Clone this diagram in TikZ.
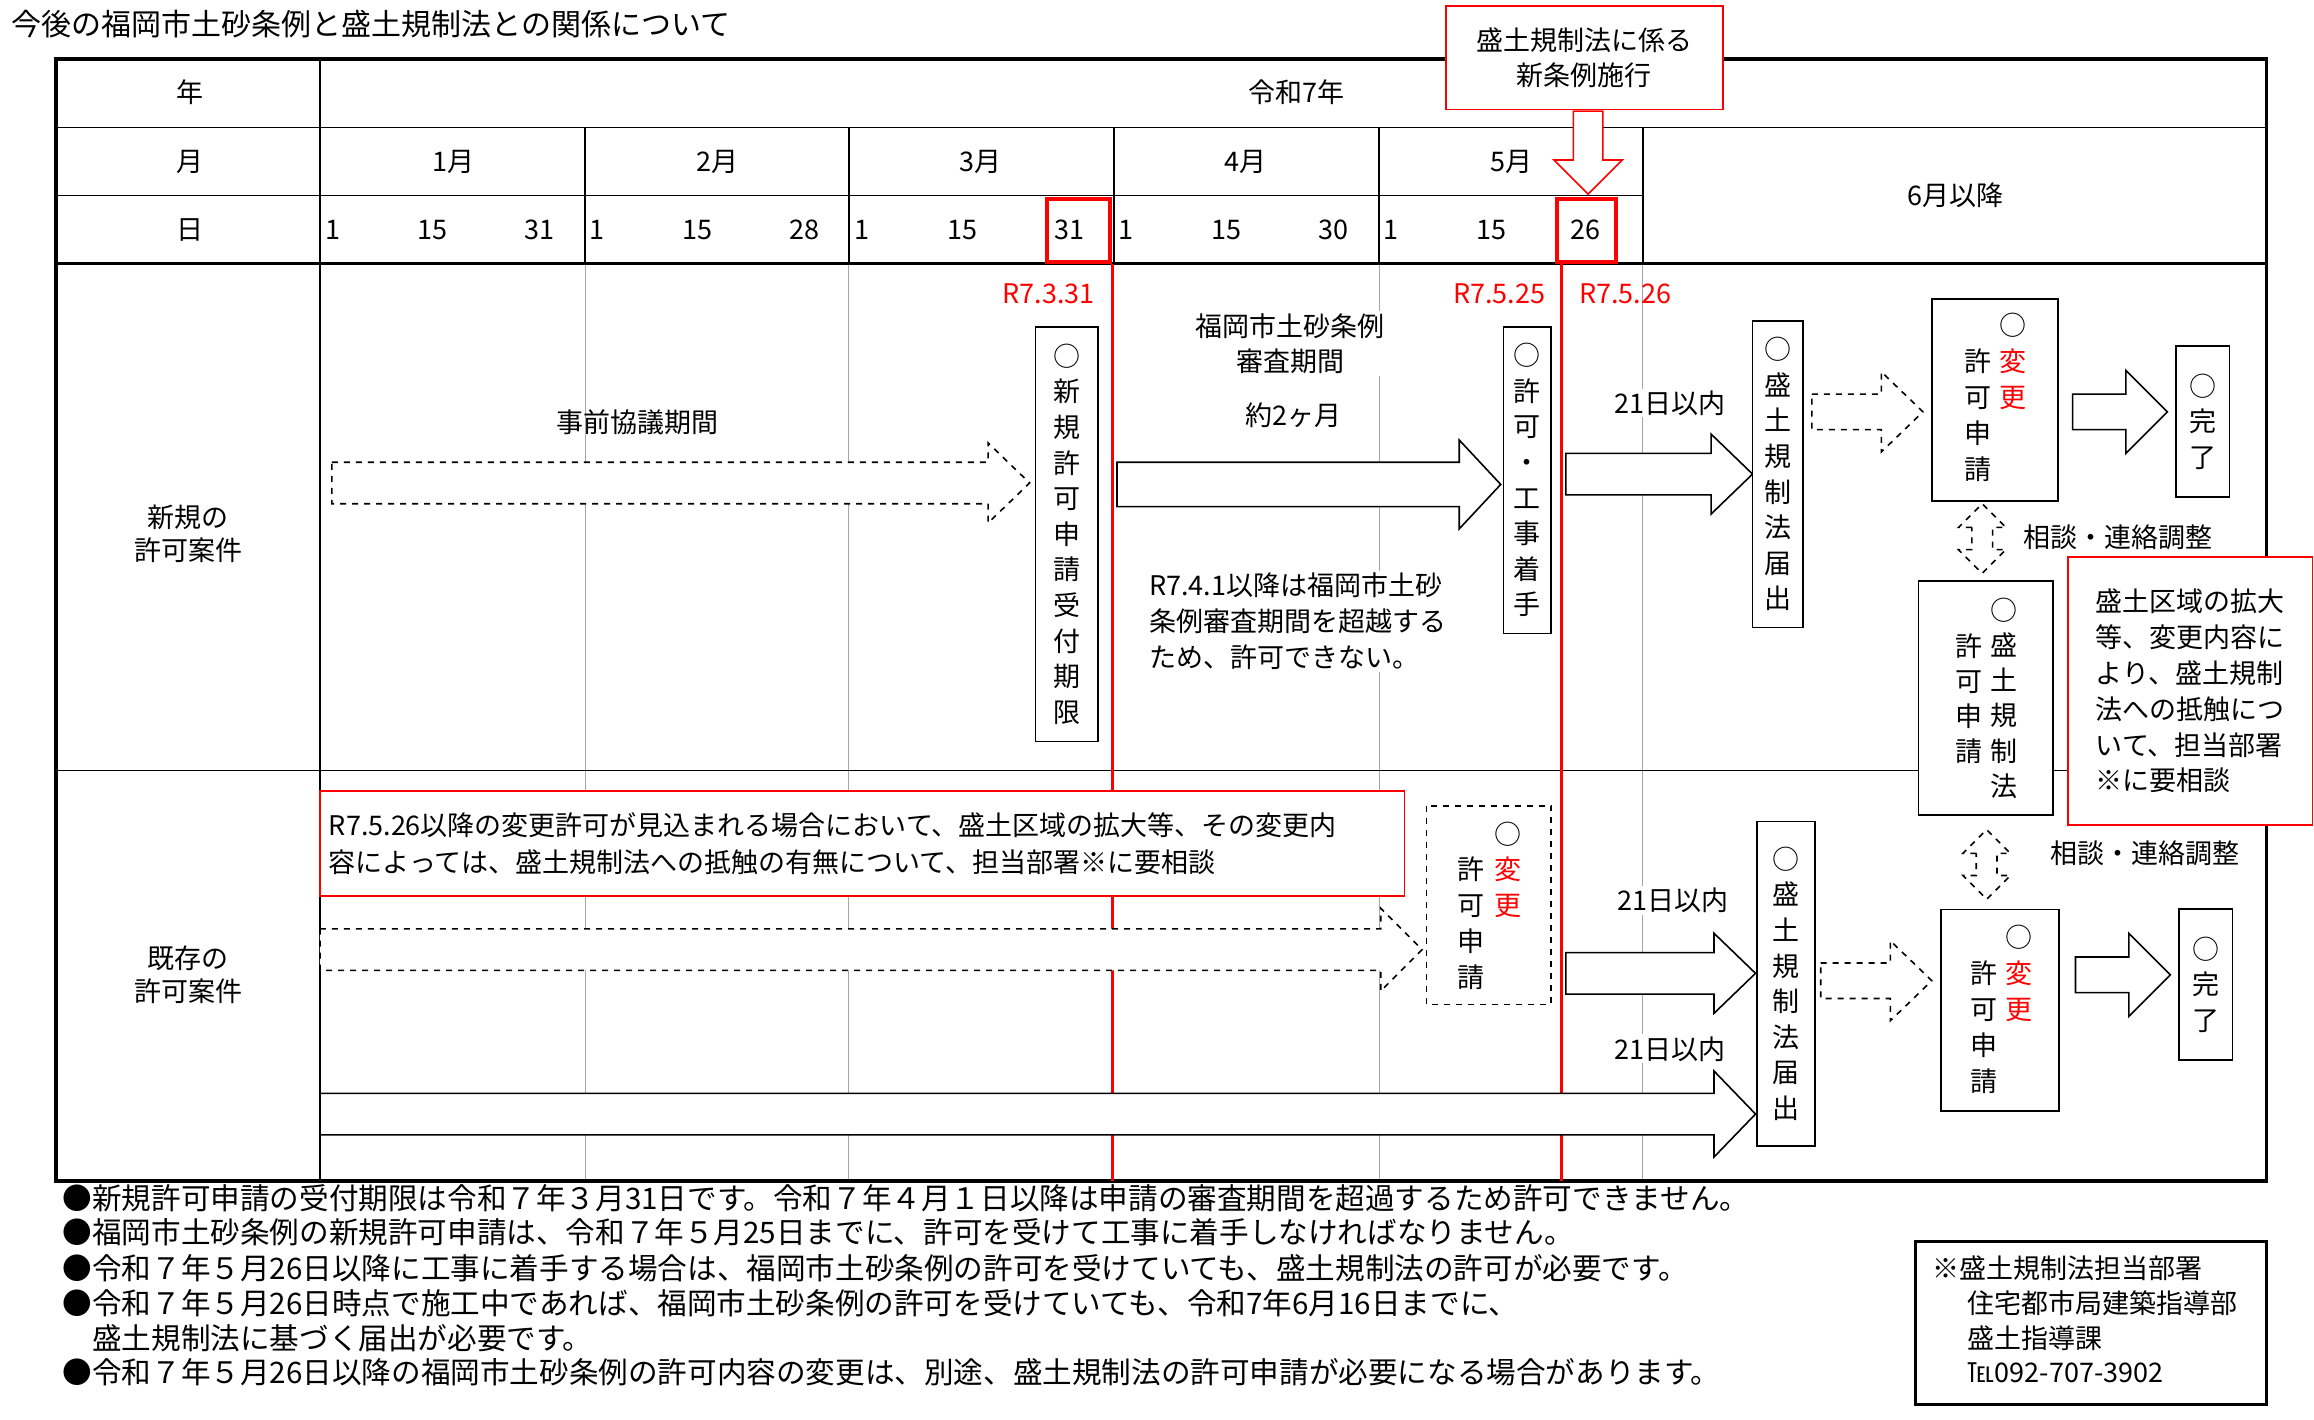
\documentclass[tikz,border=0pt]{standalone}
\usepackage{fontspec}
\setmainfont{Noto Sans CJK JP}
\newcommand\harrow[7]{% x1 x2 yc h H L style
 \draw[#7] (#1,#3-#4) -- (#2-#6,#3-#4) -- (#2-#6,#3-#5) -- (#2,#3) -- (#2-#6,#3+#5) -- (#2-#6,#3+#4) -- (#1,#3+#4) -- cycle;}
\newcommand\vdarrow[7]{% xc y1 y2 h H L style (double headed vertical)
 \draw[#7] (#1-#4,#2+#6) -- (#1-#5,#2+#6) -- (#1,#2) -- (#1+#5,#2+#6) -- (#1+#4,#2+#6) -- (#1+#4,#3-#6) -- (#1+#5,#3-#6) -- (#1,#3) -- (#1-#5,#3-#6) -- (#1-#4,#3-#6) -- cycle;}
\begin{document}
\begin{tikzpicture}[x=0.7407pt,y=-0.7407pt,
 every node/.style={font=\fontsize{13.5}{17}\selectfont,inner sep=1pt},
 vbox/.style={draw,thick,fill=white,align=center,font=\fontsize{13.5}{17.8}\selectfont,anchor=north,inner sep=2pt},
 solidarr/.style={draw,thick,fill=white},
 dasharr/.style={draw,thick,dashed,fill=white},
 redbox/.style={draw=red,thick,fill=white},
 grayline/.style={gray!70,line width=0.5pt}]
\useasboundingbox (0,0) rectangle (1562,958);
\fill[white] (0,0) rectangle (1562,958);
\node[anchor=west,font=\fontsize{15}{18}\selectfont] (title) at (6,16) {今後の福岡市土砂条例と盛土規制法との関係について};
% gray verticals
\foreach \x in {395,573,931} \draw[grayline] (\x,178) -- (\x,797);
\draw[grayline] (1109,178) -- (1109,797);
% table lines
\draw[thick] (38,86) -- (1530,86);
\draw[thick] (38,132) -- (1109,132);
\draw[line width=1.3pt] (38,178) -- (1530,178);
\draw[thick] (38,520) -- (1530,520);
\draw[thick] (216,40) -- (216,797);
\foreach \x in {395,573,752,931} \draw[thick] (\x,86) -- (\x,178);
\draw[thick] (1109,86) -- (1109,178);
\draw[line width=1.8pt] (38,40) rectangle (1530,797);
% headers
\node (nen) at (128,62) {年};
\node (tsuki) at (128,109) {月};
\node (hi) at (128,155) {日};
\node (r7) at (875,62) {令和7年};
\node at (306,109) {1月};
\node at (484,109) {2月};
\node at (662,109) {3月};
\node at (841,109) {4月};
\node at (1020,109) {5月};
\node at (1320,132) {6月以降};
\foreach \x/\t in {225/1,292/15,364/31,403/1,471/15,543/28,582/1,650/15,760/1,828/15,900/30,939/1,1007/15}
 \node at (\x,155) {\t};
\node at (722,155) {31};
\node at (1070,155) {26};
\draw[red,line width=2pt] (707,134) rectangle (749,177);
\draw[red,line width=2pt] (1051,134) rectangle (1091,177);
% top box and arrow
\node[redbox,minimum width=187*0.7407pt,minimum height=70*0.7407pt,align=center,font=\fontsize{13.5}{17.8}\selectfont] (shinjorei) at (1069.5,39) {盛土規制法に係る\\新条例施行};
\draw[red,thick,fill=white] (1062,75) -- (1082,75) -- (1082,108) -- (1095,108) -- (1072,131) -- (1049,108) -- (1062,108) -- cycle;
% red verticals
\draw[red,line width=1.5pt] (751,178) -- (751,797);
\draw[red,line width=1.5pt] (1054,178) -- (1054,797);
\node[red] at (708,198) {R7.3.31};
\node[red] at (1012,198) {R7.5.25};
\node[red] at (1097,198) {R7.5.26};
% row labels
\node[align=center,font=\fontsize{13.5}{16.5}\selectfont] at (127,360) {新規の\\許可案件};
\node[align=center,font=\fontsize{13.5}{16.5}\selectfont] at (127,658) {既存の\\許可案件};
% row 1
\node at (430,285) {事前協議期間};
\harrow{224}{695}{326}{14}{27}{28}{dasharr}
\node[vbox,minimum width=42*0.7407pt,minimum height=280*0.7407pt] (shinki) at (720,220) {○\\新\\規\\許\\可\\申\\請\\受\\付\\期\\限};
\node[align=center,font=\fontsize{13.5}{17.8}\selectfont,fill=white] at (871,232) {福岡市土砂条例\\審査期間};
\node[fill=white] at (873,280) {約2ヶ月};
\harrow{754}{1013}{327}{15}{30}{28}{solidarr}
\node[anchor=north west,align=left,fill=white,font=\fontsize{13.5}{18.1}\selectfont] at (774,385) {R7.4.1以降は福岡市土砂\\条例審査期間を超越する\\ため、許可できない。};
\node[vbox,minimum width=32*0.7407pt,minimum height=207*0.7407pt] (kyoka) at (1031,220) {○\\許\\可\\・\\工\\事\\着\\手};
\node[fill=white] at (1127,272) {21日以内};
\harrow{1057}{1183}{320}{14}{27}{28}{solidarr}
\node[vbox,minimum width=34*0.7407pt,minimum height=207*0.7407pt] (todoke1) at (1200,216) {○\\盛\\土\\規\\制\\法\\届\\出};
\harrow{1223}{1298}{278}{12}{27}{28}{dasharr}
\draw[thick,fill=white] (1304,202) rectangle (1389,338);
\node[align=center,font=\fontsize{13.5}{17.9}\selectfont,anchor=north] at (1335,234) {許\\可\\申\\請};
\node[align=center,font=\fontsize{13.5}{17.9}\selectfont,anchor=north] at (1359,210) {○\\\textcolor{red}{変}\\\textcolor{red}{更}};
\harrow{1399}{1463}{278}{12}{28}{28}{solidarr}
\node[vbox,minimum width=36*0.7407pt,minimum height=102*0.7407pt] (kanryo1) at (1487,233) {○\\完\\了};
\vdarrow{1338}{340}{387}{7}{16}{16}{dasharr}
\node at (1430,363) {相談・連絡調整};
\draw[thick,fill=white] (1295,392) rectangle (1386,550);
\node[align=center,font=\fontsize{13.5}{17.6}\selectfont,anchor=north] at (1329,426) {許\\可\\申\\請};
\node[align=center,font=\fontsize{13.5}{17.6}\selectfont,anchor=north] at (1353,402) {○\\盛\\土\\規\\制\\法};
\node[redbox,minimum width=165*0.7407pt,minimum height=181*0.7407pt,align=left,font=\fontsize{13.5}{17.9}\selectfont] (note1) at (1478.5,466.5) {盛土区域の拡大\\等、変更内容に\\より、盛土規制\\法への抵触につ\\いて、担当部署\\※に要相談};
% row 2
\node[redbox,minimum width=732*0.7407pt,minimum height=71*0.7407pt,align=left,font=\fontsize{13.5}{18.1}\selectfont,text width=720*0.7407pt] (note2) at (582,569.5) {R7.5.26以降の変更許可が見込まれる場合において、盛土区域の拡大等、その変更内\\容によっては、盛土規制法への抵触の有無について、担当部署※に要相談};
\harrow{216}{960}{641}{14}{28}{28}{dasharr}
\draw[thick,dashed,fill=white] (963,544) rectangle (1047,678);
\node[align=center,font=\fontsize{13.5}{17.9}\selectfont,anchor=north] at (993,577) {許\\可\\申\\請};
\node[align=center,font=\fontsize{13.5}{17.9}\selectfont,anchor=north] at (1018,553) {○\\\textcolor{red}{変}\\\textcolor{red}{更}};
\node[fill=white] at (1129,608) {21日以内};
\harrow{1057}{1185}{657}{14}{27}{28}{solidarr}
\node[vbox,minimum width=39*0.7407pt,minimum height=219*0.7407pt] (todoke2) at (1205.5,554) {○\\盛\\土\\規\\制\\法\\届\\出};
\harrow{1229}{1304}{662}{12}{27}{28}{dasharr}
\draw[thick,fill=white] (1310,614) rectangle (1390,750);
\node[align=center,font=\fontsize{13.5}{17.9}\selectfont,anchor=north] at (1339,647) {許\\可\\申\\請};
\node[align=center,font=\fontsize{13.5}{17.9}\selectfont,anchor=north] at (1363,623) {○\\\textcolor{red}{変}\\\textcolor{red}{更}};
\harrow{1401}{1465}{658}{12}{28}{28}{solidarr}
\node[vbox,minimum width=36*0.7407pt,minimum height=102*0.7407pt] (kanryo2) at (1489,613) {○\\完\\了};
\vdarrow{1341}{560}{607}{7}{16}{16}{dasharr}
\node at (1448,576) {相談・連絡調整};
\node[fill=white] at (1127,708) {21日以内};
\harrow{216}{1185}{752}{14}{29}{28}{solidarr}
% footer
\begin{scope}[every node/.style={anchor=west,font=\fontsize{14.8}{18}\selectfont,inner sep=0pt}]
\node at (42,809) {●新規許可申請の受付期限は令和７年３月31日です。令和７年４月１日以降は申請の審査期間を超過するため許可できません。};
\node at (42,832) {●福岡市土砂条例の新規許可申請は、令和７年５月25日までに、許可を受けて工事に着手しなければなりません。};
\node at (42,856) {●令和７年５月26日以降に工事に着手する場合は、福岡市土砂条例の許可を受けていても、盛土規制法の許可が必要です。};
\node at (42,880) {●令和７年５月26日時点で施工中であれば、福岡市土砂条例の許可を受けていても、令和7年6月16日までに、};
\node at (42,903) {\phantom{●}盛土規制法に基づく届出が必要です。};
\node at (42,926) {●令和７年５月26日以降の福岡市土砂条例の許可内容の変更は、別途、盛土規制法の許可申請が必要になる場合があります。};
\end{scope}
\draw[line width=1.3pt] (1293,838) rectangle (1530,948);
\node[anchor=north west,align=left,font=\fontsize{13.5}{17.4}\selectfont] (tanto) at (1303,846) {※盛土規制法担当部署\\\hspace*{1.3em}住宅都市局建築指導部\\\hspace*{1.3em}盛土指導課\\\hspace*{1.3em}℡092-707-3902};
\end{tikzpicture}
\end{document}
